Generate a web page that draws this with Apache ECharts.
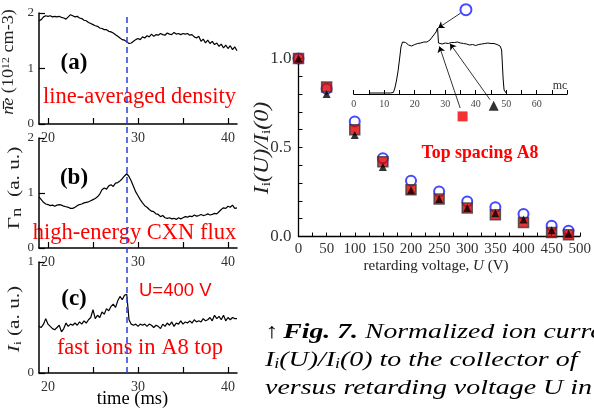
<!DOCTYPE html>
<html><head><meta charset="utf-8">
<script src="https://cdn.jsdelivr.net/npm/echarts@6/dist/echarts.min.js"></script>
<style>html,body{margin:0;padding:0;background:#fff}#c{width:594px;height:414px}</style>
</head><body><div id="c"></div>
<script>
// ---- time traces (ms) ----
const times = [19,19.25,19.5,19.75,20,20.25,20.5,20.75,21,21.25,21.5,21.75,22,22.25,22.5,22.75,
23,23.25,23.5,23.75,24,24.25,24.5,24.75,25,25.25,25.5,25.75,26,26.25,26.5,26.75,
27,27.25,27.5,27.75,28,28.25,28.5,28.75,29,29.25,29.5,29.75,30,30.25,30.5,30.75,
31,31.25,31.5,31.75,32,32.25,32.5,32.75,33,33.25,33.5,33.75,34,34.25,34.5,34.75,
35,35.25,35.5,35.75,36,36.25,36.5,36.75,37,37.25,37.5,37.75,38,38.25,38.5,38.75,
39,39.25,39.5,39.75,40,40.25,40.5,40.75,41];
const density = [1.86,1.88,1.93,1.95,1.94,1.95,1.93,1.94,
1.93,1.94,1.92,1.91,1.89,1.93,1.97,1.95,
1.93,1.94,1.91,1.90,1.87,1.86,1.83,1.81,
1.79,1.77,1.76,1.73,1.72,1.70,1.70,1.67,
1.66,1.64,1.61,1.58,1.55,1.52,1.51,1.48,
1.45,1.46,1.49,1.52,1.54,1.52,1.57,1.55,
1.59,1.57,1.62,1.58,1.61,1.60,1.63,1.61,
1.60,1.64,1.62,1.61,1.65,1.62,1.63,1.61,
1.63,1.62,1.63,1.60,1.61,1.57,1.55,1.58,
1.49,1.53,1.46,1.51,1.45,1.49,1.43,1.46,
1.40,1.44,1.37,1.42,1.36,1.41,1.34,1.39,1.32];
const cxnFlux = [0.93,0.88,0.83,0.80,0.79,0.77,0.78,0.76,
0.78,0.79,0.78,0.76,0.75,0.74,0.72,0.72,
0.74,0.77,0.79,0.80,0.82,0.83,0.84,0.86,
0.88,0.90,0.93,0.98,1.06,1.09,1.07,1.13,
1.15,1.12,1.18,1.19,1.22,1.26,1.31,1.35,
1.30,1.22,1.12,1.02,0.95,0.88,0.82,0.77,
0.74,0.70,0.67,0.66,0.62,0.61,0.57,0.59,
0.55,0.54,0.55,0.53,0.54,0.52,0.55,0.53,
0.55,0.57,0.56,0.58,0.57,0.60,0.58,0.59,
0.61,0.59,0.60,0.62,0.60,0.61,0.63,0.62,
0.66,0.70,0.73,0.72,0.76,0.74,0.78,0.72,0.73];
const fastIons = [0.42,0.41,0.44,0.49,0.44,0.42,0.40,0.39,
0.41,0.43,0.37,0.40,0.45,0.42,0.44,0.43,
0.45,0.43,0.46,0.44,0.47,0.45,0.48,0.50,
0.57,0.49,0.52,0.50,0.55,0.53,0.58,0.56,
0.60,0.62,0.59,0.65,0.69,0.66,0.70,0.71,
0.48,0.44,0.43,0.44,0.42,0.44,0.43,0.44,
0.42,0.44,0.43,0.41,0.43,0.42,0.40,0.44,
0.42,0.45,0.43,0.46,0.42,0.45,0.44,0.47,
0.44,0.46,0.45,0.47,0.45,0.48,0.46,0.47,
0.46,0.49,0.47,0.48,0.50,0.47,0.52,0.49,
0.51,0.48,0.52,0.47,0.50,0.48,0.50,0.49,0.49];
const eventTime = [28.75];
const timeTicks = [20,25,30,35,40];
const timeLabels = [20,30,40];

// ---- retarding voltage scan ----
const voltages = [0,50,100,150,200,250,300,350,400,450,480];
const circleVals = [1.0,0.83,0.646,0.44,0.313,0.253,0.197,0.165,0.126,0.06,0.032];
const squareVals = [1.0,0.84,0.60,0.42,0.262,0.21,0.16,0.122,0.079,0.022,0.01];
const triangleVals = [1.0,0.80,0.57,0.39,0.26,0.21,0.16,0.13,0.095,0.035,0.015];
const voltTicks = [0,25,50,75,100,125,150,175,200,225,250,275,300,325,350,375,400,425,450,475,500];
const voltLabels = [0,50,100,150,200,250,300,350,400,450,500];
const ratioTicks = [0,0.1,0.2,0.3,0.4,0.5,0.6,0.7,0.8,0.9,1.0];
const ratioLabels = [0,0.5,1.0];

// ---- inset waveform (mc) ----
const insetX = [5,10,12,13,13.5,14,14.5,15,15.5,16,16.5,17,17.5,18,18.5,19,19.5,20,21,22,23,24,25,25.5,26,26.5,27,27.5,27.8,28.2,29,30,31,32,33,34,35,36,37,38,39,40,41,42,43,44,45,46,47,47.5,48,48.5,49,49.3,50];
const insetY = [1,1,1,1.5,6,13,22,34,47,52,53,51.5,50.5,49,48.5,48,49,49.5,50.5,51,52,52,54,56,58,60,62,66,51,49,50,51,50.5,51.5,51.5,52,51,50.5,50,49,49.5,48.5,49.5,50,50.5,51,50.5,50.5,49.5,49,48,44,15,4,1];
const insetTicks = [0,5,10,15,20,25,30,35,40,45,50,55,60,65,70];
const insetLabels = [0,10,20,30,40,50,60];
const insetMarkX = [36.8,35.7,45.9];   // circle, square, triangle
const insetMarkY = [84.3,-22.4,-11.7];
const arrowFrom = [[35.1,81],[34.9,-14],[44.7,-5.7]];
const arrowTo = [[27.7,66],[28.1,47.6],[31.6,50.3]];

const SERIF = "'Liberation Serif','Times New Roman',serif";
const SANS = "'Liberation Sans',Arial,sans-serif";
const zip = (a,b)=>a.map((v,i)=>[v,b[i]]);

function leftX(gi){
  return {type:'value',gridIndex:gi,min:19,max:41,
    axisLine:{onZero:false,lineStyle:{color:'#000',width:1.5}},
    axisTick:{inside:true,length:6,customValues:timeTicks,lineStyle:{color:'#000',width:1.2}},
    axisLabel:{customValues:timeLabels,fontFamily:SERIF,fontSize:14,color:'#333',margin:7},
    splitLine:{show:false}};
}
function leftY(gi,max,ticks){
  return {type:'value',gridIndex:gi,min:0,max:max,
    axisLine:{show:true,lineStyle:{color:'#000',width:1.5}},
    axisTick:{show:true,inside:true,length:6,customValues:ticks,lineStyle:{color:'#000',width:1.2}},
    axisLabel:{customValues:ticks,fontFamily:SERIF,fontSize:13,color:'#333',margin:5},
    splitLine:{show:false}};
}
const redText = (x,y,t)=>({type:'text',x:x,y:y,style:{text:t,font:"22.5px "+SERIF,fill:'#ff0000',align:'center',verticalAlign:'middle'}});
const panelTag = (y,t)=>({type:'text',x:74,y:y,style:{text:t,font:"bold 23px "+SERIF,fill:'#000',align:'center',verticalAlign:'middle'}});
const capRich = {
  a:{fontFamily:SERIF,fontSize:21,fill:'#000',padding:[0,4,0,0]},
  b:{fontFamily:SERIF,fontSize:22,fontWeight:'bold',fontStyle:'italic',fill:'#000'},
  c:{fontFamily:SERIF,fontSize:22,fontStyle:'italic',fill:'#000'},
  s:{fontFamily:SERIF,fontSize:14,fontStyle:'italic',fill:'#000',padding:[8,0,0,0]}
};

const option = {
  animation:false,
  backgroundColor:'#fff',
  grid:[
    {left:39,top:13,width:198,height:111},
    {left:39,top:138,width:198,height:110},
    {left:39,top:262,width:198,height:111},
    {left:39,top:15,width:198,height:358},
    {left:298.5,top:58.5,width:285,height:178},
    {left:353.7,top:6,width:213.5,height:88}
  ],
  xAxis:[
    leftX(0),leftX(1),leftX(2),
    {type:'value',gridIndex:3,min:19,max:41,show:false},
    {type:'value',gridIndex:4,min:0,max:500,
      axisLine:{onZero:false,lineStyle:{color:'#000',width:1.3}},
      axisTick:{inside:true,length:4,customValues:voltTicks,lineStyle:{color:'#000'}},
      axisLabel:{customValues:voltLabels,fontFamily:SERIF,fontSize:15,color:'#333',margin:5},
      splitLine:{show:false}},
    {type:'value',gridIndex:5,min:0,max:70,
      axisLine:{onZero:false,lineStyle:{color:'#000',width:1}},
      axisTick:{inside:true,length:4,customValues:insetTicks,lineStyle:{color:'#000'}},
      axisLabel:{customValues:insetLabels,fontFamily:SERIF,fontSize:10,color:'#444',margin:5,hideOverlap:false},
      splitLine:{show:false}}
  ],
  yAxis:[
    leftY(0,2,[0,1,2]),leftY(1,2,[0,1,2]),leftY(2,1,[0,1]),
    {type:'value',gridIndex:3,min:0,max:1,show:false},
    {type:'value',gridIndex:4,min:0,max:1,
      axisLine:{show:true,lineStyle:{color:'#000',width:1.3}},
      axisTick:{show:true,inside:true,length:4,customValues:ratioTicks,lineStyle:{color:'#000'}},
      axisLabel:{customValues:ratioLabels,formatter:v=>v.toFixed(1),fontFamily:SERIF,fontSize:17,color:'#333',margin:7},
      splitLine:{show:false}},
    {type:'value',gridIndex:5,min:0,max:88,show:false}
  ],
  series:[
    {type:'line',xAxisIndex:0,yAxisIndex:0,data:zip(times,density),symbol:'none',lineStyle:{color:'#000',width:1.2}},
    {type:'line',xAxisIndex:1,yAxisIndex:1,data:zip(times,cxnFlux),symbol:'none',lineStyle:{color:'#000',width:1.2}},
    {type:'line',xAxisIndex:2,yAxisIndex:2,data:zip(times,fastIons),symbol:'none',lineStyle:{color:'#000',width:1.2}},
    {type:'line',xAxisIndex:3,yAxisIndex:3,data:[],silent:true,
      markLine:{silent:true,symbol:'none',label:{show:false},
        lineStyle:{color:'#2a3fd8',width:1.5,type:[6,4]},
        data:eventTime.map(t=>({xAxis:t}))}},
    {type:'scatter',xAxisIndex:4,yAxisIndex:4,clip:false,data:zip(voltages,circleVals),symbol:'circle',symbolSize:10,
      itemStyle:{color:'rgba(0,0,0,0)',borderColor:'#1a1aff',borderWidth:2}},
    {type:'scatter',xAxisIndex:4,yAxisIndex:4,clip:false,data:zip(voltages,squareVals),symbol:'rect',symbolSize:10,
      itemStyle:{color:'#e00000',borderColor:'#3a3a3a',borderWidth:1.5}},
    {type:'scatter',xAxisIndex:4,yAxisIndex:4,clip:false,data:zip(voltages,triangleVals),symbol:'triangle',symbolSize:8,
      itemStyle:{color:'#000'}},
    {type:'line',xAxisIndex:5,yAxisIndex:5,data:zip(insetX,insetY),symbol:'none',lineStyle:{color:'#000',width:1}},
    {type:'scatter',xAxisIndex:5,yAxisIndex:5,clip:false,data:[[insetMarkX[0],insetMarkY[0]]],symbol:'circle',symbolSize:11,
      itemStyle:{color:'rgba(0,0,0,0)',borderColor:'#1a1aff',borderWidth:2}},
    {type:'scatter',xAxisIndex:5,yAxisIndex:5,clip:false,data:[[insetMarkX[1],insetMarkY[1]]],symbol:'rect',symbolSize:10,
      itemStyle:{color:'#f00000'}},
    {type:'scatter',xAxisIndex:5,yAxisIndex:5,clip:false,data:[[insetMarkX[2],insetMarkY[2]]],symbol:'triangle',symbolSize:10,
      itemStyle:{color:'#000'}},
    {type:'lines',coordinateSystem:'cartesian2d',xAxisIndex:5,yAxisIndex:5,clip:false,
      symbol:['none','arrow'],symbolSize:6,
      lineStyle:{color:'#000',width:0.8,opacity:1},
      data:arrowFrom.map((f,i)=>({coords:[f,arrowTo[i]]}))}
  ],
  graphic:[
    panelTag(63,'(a)'),panelTag(178,'(b)'),panelTag(299,'(c)'),
    redText(139.5,97,'line-averaged density'),
    redText(134.5,233,'high-energy CXN flux'),
    redText(140,348,'fast ions in A8 top'),
    {type:'text',x:139,y:291,style:{text:'U=400 V',font:"18.5px "+SANS,fill:'#ff0000',align:'left',verticalAlign:'middle'}},
    {type:'text',x:132.5,y:399,style:{text:'time (ms)',font:"18.5px "+SERIF,fill:'#000',align:'center',verticalAlign:'middle'}},
    // left y-axis names
    {type:'text',x:9,y:62,rotation:Math.PI/2,scaleX:1.07,style:{text:'{i|ne} (10{s|12} cm-3)',font:"17px "+SERIF,fill:'#222',align:'center',verticalAlign:'middle',
      rich:{i:{fontFamily:SERIF,fontSize:17,fontStyle:'italic',fill:'#222'},s:{fontFamily:SERIF,fontSize:11,verticalAlign:'top',fill:'#222'}}}},
    {type:'line',shape:{x1:3.5,y1:101,x2:3.5,y2:109},style:{stroke:'#222',lineWidth:1.2}},
    {type:'text',x:15,y:188,rotation:Math.PI/2,scaleX:1.25,style:{text:'Γ{n|n}  (a. u.)',font:"17px "+SERIF,fill:'#222',align:'center',verticalAlign:'middle',
      rich:{n:{fontFamily:SERIF,fontSize:15,fill:'#222',padding:[4,0,0,0]}}}},
    {type:'text',x:15,y:319,rotation:Math.PI/2,scaleX:1.25,style:{text:'{i|I}{s|i} (a. u.)',font:"17px "+SERIF,fill:'#222',align:'center',verticalAlign:'middle',
      rich:{i:{fontFamily:SERIF,fontSize:17,fontStyle:'italic',fill:'#222'},s:{fontFamily:SERIF,fontSize:11,fill:'#222',padding:[6,0,0,0]}}}},
    // right chart texts
    {type:'text',x:480,y:153,style:{text:'Top spacing A8',font:"bold 17.8px "+SERIF,fill:'#ff0000',align:'center',verticalAlign:'middle'}},
    {type:'text',x:436,y:266,style:{text:'{t|retarding voltage, }{i|U}{t| (V)}',align:'center',verticalAlign:'middle',
      rich:{t:{fontFamily:SERIF,fontSize:15,fill:'#222'},i:{fontFamily:SERIF,fontSize:15,fontStyle:'italic',fill:'#222'}}}},
    {type:'text',x:263,y:148,rotation:Math.PI/2,scaleX:1.2,style:{text:'{i|I}{s|i}{i|(U)/I}{s|i}{i|(0)}',align:'center',verticalAlign:'middle',
      rich:{i:{fontFamily:SERIF,fontSize:20,fontStyle:'italic',fill:'#222'},s:{fontFamily:SERIF,fontSize:13,fill:'#222',padding:[7,0,0,0]}}}},
    {type:'text',x:560,y:86,style:{text:'mc',font:"12px "+SERIF,fill:'#333',align:'center',verticalAlign:'middle'}},
    // caption
    {type:'text',x:265,y:332,scaleX:1.26,style:{text:'{a|↑}{b|Fig. 7.}{c| Normalized ion current}',align:'left',verticalAlign:'middle',rich:capRich}},
    {type:'text',x:265,y:360,scaleX:1.27,style:{text:'{c|I}{s|i}{c|(U)/I}{s|i}{c|(0) to the collector of}',align:'left',verticalAlign:'middle',rich:capRich}},
    {type:'text',x:265,y:388,scaleX:1.27,style:{text:'{c|versus retarding voltage U in}',align:'left',verticalAlign:'middle',rich:capRich}}
  ]
};
const chart = echarts.init(document.getElementById('c'),null,{renderer:'canvas'});
chart.setOption(option);
</script></body></html>
